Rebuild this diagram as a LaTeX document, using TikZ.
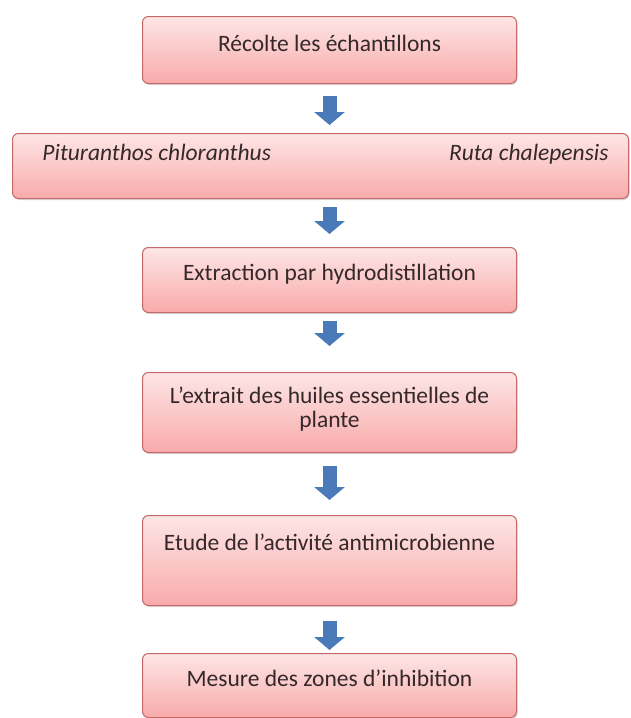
\documentclass[tikz,border=0pt]{standalone}
\usepackage{fontspec}
\setmainfont{Carlito}
\usetikzlibrary{arrows.meta,
  shadows,
  positioning
}
\definecolor{boxline}{RGB}{196,104,104}
\definecolor{boxtop}{RGB}{253,230,230}
\definecolor{boxbottom}{RGB}{249,170,170}
\definecolor{textgrey}{RGB}{52,40,42}
\definecolor{flowblue}{RGB}{74,122,184}

\tikzstyle{stepbox} = [draw=boxline, line width=1pt, rounded corners=6pt,
  top color=boxtop, bottom color=boxbottom, inner sep=0pt,
  anchor=north west, text=textgrey, font=\fontsize{23.5}{24.5}\selectfont,
  drop shadow={opacity=0.3, shadow xshift=1pt, shadow yshift=-1.5pt}]
\tikzstyle{flow} = [flowblue, line width=14pt,
  -{Triangle[length=13pt, width=30pt]}]

% box text: height, baseline from top, text
\newcommand{\steptext}[3]{\parbox[c][#1][t]{374pt}{\centering\rule{0pt}{#2}#3}}

\begin{document}
\begin{tikzpicture}[x=1pt, y=-1pt]
  \useasboundingbox (0, 0) rectangle (631, 718);

  \node[stepbox] (recolte) at (142, 16) {\steptext{67pt}{34.5pt}{Récolte les échantillons}};
  \node[stepbox] (plantes) at (12, 133) {\parbox[c][65pt][t]{616pt}{\rule{0pt}{27pt}\hspace*{30pt}\textit{Pituranthos chloranthus}\hfill\textit{Ruta chalepensis}\hspace*{20pt}}};
  \node[stepbox] (extraction) at (142, 247) {\steptext{65pt}{32.5pt}{Extraction par hydrodistillation}};
  \node[stepbox] (extrait) at (142, 372) {\steptext{80pt}{30.5pt}{L’extrait des huiles essentielles de\\plante}};
  \node[stepbox] (etude) at (142, 515) {\steptext{90pt}{34.5pt}{Etude de l’activité antimicrobienne}};
  \node[stepbox] (mesure) at (142, 653) {\steptext{64pt}{32.5pt}{Mesure des zones d’inhibition}};

  \draw[flow, shorten <=12pt, shorten >=8pt] (recolte.south) -- (plantes.north -| recolte.south);
  \draw[flow, shorten <=8pt, shorten >=13pt] (plantes.south -| extraction.north) -- (extraction.north);
  \draw[flow, shorten <=8pt, shorten >=26pt] (extraction.south) -- (extrait.north);
  \draw[flow, shorten <=13pt, shorten >=15pt] (extrait.south) -- (etude.north);
  \draw[flow, shorten <=15pt, shorten >=3pt] (etude.south) -- (mesure.north);
\end{tikzpicture}
\end{document}
